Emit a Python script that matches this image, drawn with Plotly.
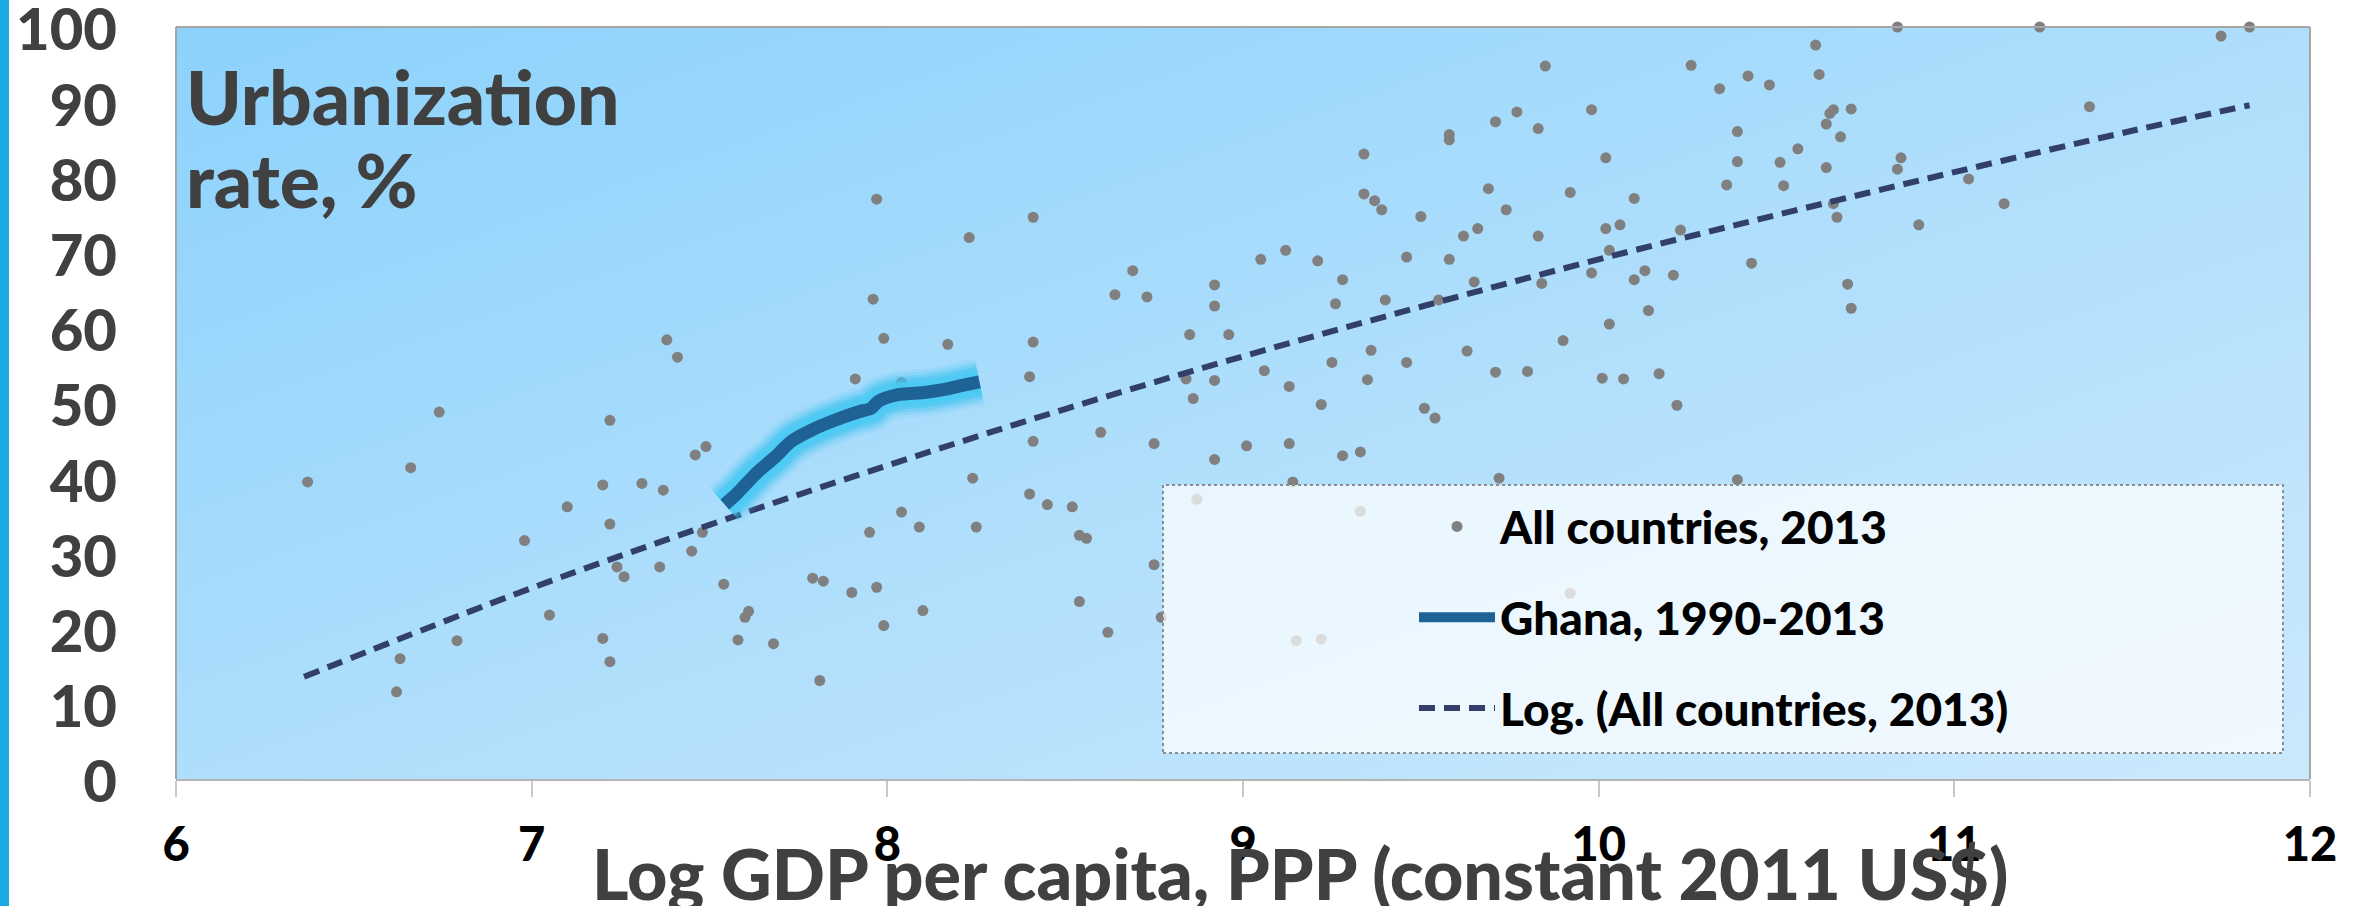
import base64
import plotly.graph_objects as go

# ---------------- data ----------------
gdp_x = [
    7.38, 7.41, 6.74, 7.22, 7.49,
    6.37, 6.66, 7.46, 7.20, 7.31, 7.37, 7.10, 7.22, 6.98, 7.48, 7.45, 7.24, 7.36, 7.26, 7.54,
    7.05, 7.61, 7.60, 6.79, 7.20, 7.58, 7.68, 6.63, 7.22, 6.62,
    9.85, 9.98, 9.77, 9.71, 9.83, 9.58, 9.58, 9.34, 9.34, 9.37, 9.39, 9.69, 9.92, 9.74, 9.50,
    9.66, 9.62, 9.83, 9.46, 9.58, 9.05, 9.12, 9.21, 9.28, 9.65, 9.84, 9.98, 8.69, 8.64, 8.73,
    8.92, 8.92, 9.26, 9.40, 9.55, 7.97, 8.41, 8.23, 7.96, 7.99, 8.17, 8.41, 7.91, 8.04, 8.40,
    8.85, 8.96, 9.36, 9.25, 9.46, 9.63, 9.90, 9.71, 9.80, 10.01, 9.06, 8.84, 8.92, 9.35, 9.13,
    8.86, 9.22, 9.51, 9.54, 8.60, 8.41, 8.75, 9.01, 9.13, 9.33,
    8.92, 9.28, 8.24, 9.14, 9.72, 8.40, 8.45, 8.52, 8.04, 7.95, 8.09, 8.25, 8.54, 8.56, 8.75,
    7.79, 7.82, 7.90, 7.97, 8.10, 7.99, 8.54, 8.62, 8.77, 7.81, 8.87, 9.33, 9.92, 9.15, 9.22,
    10.39,
    10.84, 11.24, 11.75, 11.83, 10.61, 10.26, 10.42, 10.62, 10.34, 10.48, 11.38, 10.66, 10.65,
    10.71, 10.64, 10.39, 10.68, 10.56, 10.02, 10.39, 10.51, 10.64, 10.85, 10.84, 10.36, 10.52,
    11.04, 10.10, 11.14, 10.66, 10.67, 10.90, 10.02, 10.06, 10.23, 10.03, 10.43, 10.13, 10.10,
    10.21, 10.70, 10.71, 10.14, 10.03, 10.07, 10.17, 10.22,
]
urban_y = [
    58.4, 56.1, 48.8, 47.7, 44.2,
    39.5, 41.4, 43.1, 39.1, 39.3, 38.4, 36.2, 33.9, 31.7, 32.8, 30.3, 28.2, 28.2, 26.9, 25.9,
    21.8, 22.3, 21.5, 18.4, 18.7, 18.5, 18.0, 16.0, 15.6, 11.6,
    94.8, 89.0, 88.7, 87.4, 86.5, 85.7, 85.0, 83.1, 77.8, 76.9, 75.7, 78.5, 78.0, 75.7, 74.8,
    73.2, 72.2, 72.2, 69.4, 69.1, 69.1, 70.3, 68.9, 66.4, 66.1, 65.9, 67.3, 67.6, 64.4, 64.1,
    65.7, 62.9, 63.2, 63.7, 63.7, 77.1, 74.7, 72.0, 63.8, 58.6, 57.8, 58.1, 53.2, 52.7, 53.5,
    59.1, 59.1, 57.0, 55.4, 55.4, 56.9, 58.3, 54.1, 54.2, 53.3, 54.3, 53.2, 53.0, 53.1, 52.2,
    50.6, 49.8, 49.3, 48.0, 46.1, 44.9, 44.6, 44.3, 44.6, 43.5,
    42.5, 43.0, 40.0, 39.5, 40.0, 37.9, 36.5, 36.2, 35.5, 32.8, 33.5, 33.5, 32.4, 32.0, 28.5,
    26.7, 26.3, 24.8, 25.5, 22.4, 20.4, 23.6, 19.5, 21.5, 13.1, 37.2, 35.6, 24.7, 18.4, 18.6,
    39.8,
    100.0, 100.0, 98.8, 100.0, 97.6, 94.9, 93.5, 93.7, 91.8, 92.3, 89.4, 89.0, 88.5,
    89.1, 87.1, 86.1, 85.4, 83.8, 82.6, 82.1, 82.0, 81.3, 82.6, 81.1, 79.0, 78.9,
    79.8, 77.2, 76.5, 76.5, 74.7, 73.7, 73.2, 73.7, 73.0, 70.3, 68.6, 67.6, 66.4,
    67.0, 65.8, 62.6, 62.3, 60.5, 53.2, 53.9, 49.7,
]

ghana_x = [7.543, 7.576, 7.604, 7.637, 7.684, 7.730, 7.787, 7.852, 7.918, 7.955,
           7.974, 8.030, 8.105, 8.161, 8.208, 8.259]
ghana_y = [36.5, 37.9, 39.3, 40.9, 42.8, 44.9, 46.4, 47.7, 48.8, 49.3,
           50.2, 51.1, 51.4, 51.8, 52.3, 52.8]

trend_x = [6.36, 7.0, 7.5, 8.0, 8.5, 9.0, 9.5, 10.0, 10.5, 11.0, 11.5, 11.83]
trend_y = [13.6, 25.4, 33.8, 41.7, 49.2, 56.2, 62.8, 69.1, 75.0, 80.7, 86.2, 89.6]

x_ticks = [6, 7, 8, 9, 10, 11, 12]
y_ticks = [0, 10, 20, 30, 40, 50, 60, 70, 80, 90, 100]

name_pts = "All countries, 2013"
name_gh = "Ghana, 1990-2013"
name_tr = "Log. (All countries, 2013)"
title_y_lines = ["Urbanization", "rate, %"]
title_x = "Log GDP per capita, PPP (constant 2011 US$)"

# ---------------- figure ----------------
W, H = 2357, 906
ML, MR, MT, MB = 176, 47, 27, 127
PW, PH = W - ML - MR, H - MT - MB

def px_x(p):
    return (p - ML) / PW

def px_y(p):
    return (H - MB - p) / PH

FONT = "Lato, 'Open Sans', sans-serif"
WT = 900

fig = go.Figure()

fig.add_trace(go.Scatter(
    x=gdp_x, y=urban_y, mode="markers", name=name_pts,
    marker=dict(color="#808080", size=11, line=dict(width=0)),
    cliponaxis=False, legendgroup="a", legendrank=1,
))

fig.add_trace(go.Scatter(
    x=trend_x, y=trend_y, mode="lines", name=name_tr, line_shape="spline",
    line=dict(color="#333F6B", width=6, dash="16px,9px"),
    legendgroup="c", legendrank=3,
))

for w, c in [(48, "rgba(60,195,240,0.10)"), (42, "rgba(60,195,240,0.18)"),
             (36, "rgba(60,195,240,0.30)"), (30, "rgba(65,198,242,0.50)"),
             (24, "rgba(75,202,244,0.80)")]:
    fig.add_trace(go.Scatter(
        x=ghana_x, y=ghana_y, mode="lines", showlegend=False, hoverinfo="skip",
        line=dict(color=c, width=w, shape="spline", smoothing=0.8),
    ))

fig.add_trace(go.Scatter(
    x=ghana_x, y=ghana_y, mode="lines", name=name_gh,
    line=dict(color="#1F6296", width=13, shape="spline", smoothing=0.8),
    legendgroup="b", legendrank=2,
))

# gradient background of the plot area
svg = ('<svg xmlns="http://www.w3.org/2000/svg" width="400" height="200" viewBox="0 0 400 200" '
       'preserveAspectRatio="none"><defs><linearGradient id="g" x1="0" y1="0" x2="1" y2="1">'
       '<stop offset="0" stop-color="#8CD2FC"/><stop offset="0.5" stop-color="#AEDEFC"/>'
       '<stop offset="1" stop-color="#CBE9FD"/></linearGradient></defs>'
       '<rect width="400" height="200" fill="url(#g)"/></svg>')
svg_uri = "data:image/svg+xml;base64," + base64.b64encode(svg.encode()).decode()

annotations = [
    dict(text=title_y_lines[0], xref="paper", yref="paper", x=px_x(184), y=px_y(96),
         xanchor="left", yanchor="middle", align="left", showarrow=False,
         font=dict(family=FONT, size=75, color="#404040", weight=WT)),
    dict(text=title_y_lines[1], xref="paper", yref="paper", x=px_x(184), y=px_y(179),
         xanchor="left", yanchor="middle", align="left", showarrow=False,
         font=dict(family=FONT, size=75, color="#404040", weight=WT)),
    dict(text=title_x, xref="paper", yref="paper", x=px_x(1300), y=px_y(873),
         xanchor="center", yanchor="middle", showarrow=False,
         font=dict(family=FONT, size=70, color="#404040", weight=WT)),
]

fig.update_layout(
    width=W, height=H,
    margin=dict(l=ML, r=MR, t=MT, b=MB, autoexpand=False),
    paper_bgcolor="white",
    plot_bgcolor="#ADDDFC",
    font=dict(family=FONT, color="#404040"),
    images=[dict(source=svg_uri, xref="paper", yref="paper", x=0, y=1,
                 sizex=1, sizey=1, sizing="stretch", layer="below",
                 xanchor="left", yanchor="top")],
    showlegend=True,
    legend=dict(
        x=px_x(1414), y=px_y(490), xanchor="left", yanchor="top",
        bgcolor="rgba(0,0,0,0)", borderwidth=0,
        font=dict(family=FONT, size=46, color="black", weight=WT),
        itemwidth=76, traceorder="grouped", tracegroupgap=28,
    ),
    xaxis=dict(
        range=[6, 12], tickvals=x_ticks, ticktext=[str(v) for v in x_ticks],
        showgrid=False, zeroline=False,
        showline=True, linecolor="#B4B4B4", linewidth=2, mirror=False,
        ticks="outside", ticklen=16, tickwidth=2, tickcolor="#C8C8C8",
        tickfont=dict(family=FONT, size=47, color="black", weight=WT),
        ticklabelstandoff=8, ticklabeloverflow="allow",
    ),
    yaxis=dict(
        range=[0, 100], tickvals=y_ticks, ticktext=[str(v) for v in y_ticks],
        showgrid=False, zeroline=False,
        showline=False, ticks="",
        tickfont=dict(family=FONT, size=58, color="#404040", weight=WT),
        ticklabelstandoff=58, ticklabelshift=3, ticklabeloverflow="allow",
    ),
    shapes=[
        dict(type="line", xref="paper", yref="paper", x0=0, x1=1, y0=1, y1=1,
             line=dict(color="#A6A6A6", width=2), layer="above"),
        dict(type="line", xref="paper", yref="paper", x0=0, x1=0, y0=0, y1=1,
             line=dict(color="#A6A6A6", width=2), layer="above"),
        dict(type="line", xref="paper", yref="paper", x0=1, x1=1, y0=0, y1=1,
             line=dict(color="#A6A6A6", width=2), layer="above"),
        dict(type="rect", xref="paper", yref="paper",
             x0=px_x(1163), x1=px_x(2283), y0=px_y(753), y1=px_y(485),
             fillcolor="rgba(255,255,255,0.72)",
             line=dict(color="#8C8C8C", width=2, dash="dot"), layer="above"),
        dict(type="rect", xref="paper", yref="paper",
             x0=px_x(0), x1=px_x(9), y0=px_y(H + 5), y1=px_y(-5),
             fillcolor="#1BA9E2", line=dict(width=0), layer="above"),
    ],
    annotations=annotations,
)

fig.write_html(
    "out.html",
    config={"displayModeBar": False},
    post_script="document.body.style.margin='0px';document.body.style.overflow='hidden';",
)
